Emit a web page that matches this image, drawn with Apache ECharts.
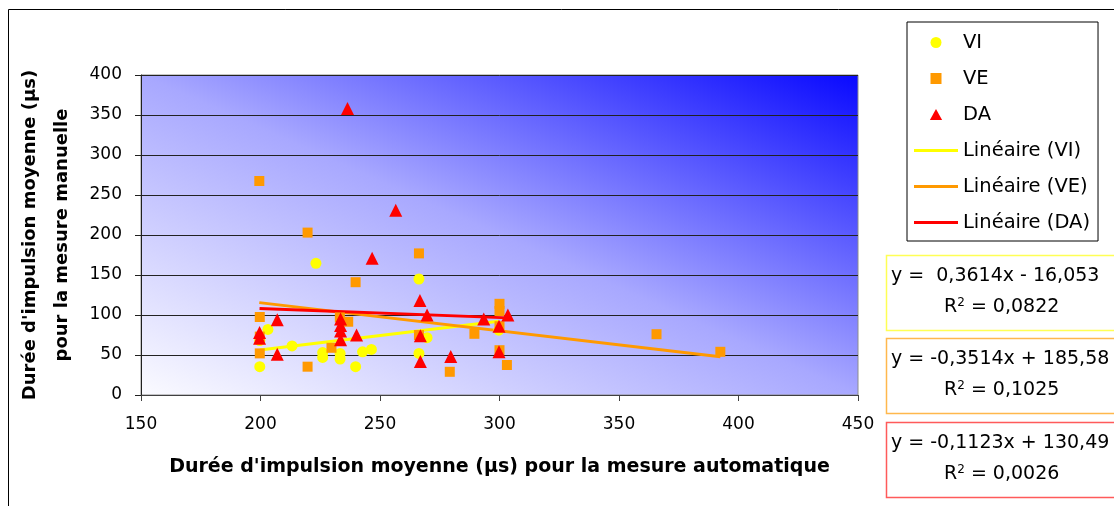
<!DOCTYPE html>
<html><head><meta charset="utf-8">
<script src="https://cdn.jsdelivr.net/npm/echarts@6/dist/echarts.min.js"></script>
<style>html,body{margin:0;padding:0;background:#fff}#c{width:1114px;height:506px}</style>
</head><body><div id="c"></div>
<script>
// ---- data ----
const viX = [223.2, 266.3, 203.1, 199.7, 199.7, 213.2, 226.0, 226.0, 233.3, 233.3, 239.8, 242.7, 246.4, 266.3, 269.7, 299.7];
const viY = [164.6, 145.0, 82.0, 35.4, 68.0, 61.3, 53.0, 47.0, 52.0, 45.0, 35.4, 54.0, 57.0, 52.0, 71.6, 81.0];
const veX = [199.5, 219.7, 266.3, 239.8, 199.7, 199.7, 199.7, 219.7, 229.7, 233.2, 236.7, 266.3, 279.2, 289.5, 300.0, 300.0, 300.0, 300.0, 303.1, 365.7, 392.4];
const veY = [267.5, 203.0, 177.0, 141.0, 97.5, 73.0, 52.0, 35.4, 59.0, 97.0, 91.6, 75.0, 29.0, 76.5, 114.0, 105.0, 86.0, 56.0, 37.5, 76.0, 54.0];
const daX = [236.4, 256.6, 246.7, 266.7, 269.7, 199.6, 199.6, 207.0, 207.0, 233.5, 233.5, 233.5, 233.5, 240.2, 266.9, 266.9, 279.6, 293.4, 303.5, 299.8, 299.8];
const daY = [358.0, 231.0, 171.0, 118.0, 100.0, 78.0, 71.0, 94.0, 51.0, 95.0, 87.0, 80.0, 69.0, 75.0, 74.0, 42.0, 48.0, 95.0, 100.0, 86.0, 54.0];
const seriesNames = ['VI', 'VE', 'DA'];
const trendNames = ['Linéaire (VI)', 'Linéaire (VE)', 'Linéaire (DA)'];
const slopes = [0.3614, -0.3514, -0.1123];
const intercepts = [-16.053, 185.58, 130.49];
const eqLabels = ['y =  0,3614x - 16,053', 'y = -0,3514x + 185,58', 'y = -0,1123x + 130,49'];
const r2Labels = ['0,0822', '0,1025', '0,0026'];
const xTicks = [150, 200, 250, 300, 350, 400, 450];
const yTicks = [0, 50, 100, 150, 200, 250, 300, 350, 400];
const xTitle = "Durée d'impulsion moyenne (µs) pour la mesure automatique";
const yTitle = "Durée d'impulsion moyenne (µs)\npour la mesure manuelle";

// ---- build ----
const colors = ['#FFFF00', '#FF9900', '#FF0000'];
const symbols = ['circle', 'rect', 'triangle'];
const symSizes = [11, 10, 13];
const legendIcons = ['circle', 'path://M0,0L10,0L10,10L0,10Z', 'path://M5,0L10,9L0,9Z'];
const lineIcon = 'path://M0,0L44,0L44,3L0,3Z';
const xs = [viX, veX, daX], ys = [viY, veY, daY];
const FONT = '"DejaVu Sans", Verdana, sans-serif';

const G = {left: 141, top: 75, width: 717, height: 320};
const t = 2 * G.width * G.height / (G.width * G.width + G.height * G.height);
const bg = new echarts.graphic.LinearGradient(0, 1, t * G.height / G.width, 1 - t * G.width / G.height, [
  {offset: 0, color: '#fbfbff'},
  {offset: 0.5, color: '#a8a8ff'},
  {offset: 1, color: '#0808ff'}
]);

const series = [];
for (let i = 0; i < 3; i++) {
  const x0 = Math.min(...xs[i]), x1 = Math.max(...xs[i]);
  series.push({
    name: trendNames[i], type: 'line', symbol: 'none', silent: true, z: 2,
    lineStyle: {color: colors[i], width: 3},
    itemStyle: {color: colors[i]},
    data: [[x0, slopes[i] * x0 + intercepts[i]], [x1, slopes[i] * x1 + intercepts[i]]]
  });
}
for (let i = 0; i < 3; i++) {
  series.push({
    name: seriesNames[i], type: 'scatter', symbol: symbols[i], symbolSize: symSizes[i], z: 3,
    itemStyle: {color: colors[i], opacity: 1},
    data: xs[i].map((x, k) => [x, ys[i][k]])
  });
}

const legendData = seriesNames.map((n, i) => ({name: n, icon: legendIcons[i], itemStyle: {color: colors[i]}}))
  .concat(trendNames.map((n, i) => ({name: n, icon: lineIcon, itemStyle: {color: colors[i]}})));

const graphics = [
  {type: 'rect', z: -10, shape: {x: 8.5, y: 9.5, width: 1200, height: 600}, style: {fill: 'none', stroke: '#000', lineWidth: 1}}
];
const boxColors = ['#FFFF55', '#FFB84D', '#FF5A5A'];
const boxTops = [255, 338, 422];
for (let i = 0; i < 3; i++) {
  graphics.push({type: 'rect', shape: {x: 886.5, y: boxTops[i] + 0.5, width: 300, height: 75}, style: {fill: '#fff', stroke: boxColors[i], lineWidth: 1.5}});
  graphics.push({type: 'text', left: 891, top: boxTops[i] + 12, style: {text: eqLabels[i], font: '19px ' + FONT, fill: '#000'}});
  graphics.push({type: 'text', left: 944, top: boxTops[i] + 42, style: {
    text: 'R{sup|2} = ' + r2Labels[i], font: '19px ' + FONT, fill: '#000',
    rich: {sup: {fontSize: 12, fontFamily: 'DejaVu Sans', padding: [0, 0, 9, 0]}}
  }});
}

const chart = echarts.init(document.getElementById('c'), null, {renderer: 'canvas'});
chart.setOption({
  animation: false,
  backgroundColor: '#fff',
  textStyle: {fontFamily: FONT},
  grid: Object.assign({show: true, backgroundColor: bg, borderColor: '#8c8c8c', borderWidth: 1, outerBoundsMode: 'none', containLabel: false}, G),
  legend: {
    orient: 'vertical', left: 907, top: 22, padding: [10, 8, 8, 7],
    itemWidth: 44, itemHeight: 11, itemGap: 15, symbolKeepAspect: true,
    borderColor: '#000', borderWidth: 1, backgroundColor: '#fff',
    textStyle: {fontSize: 19.5, color: '#000', lineHeight: 21, fontFamily: FONT},
    data: legendData
  },
  xAxis: {
    type: 'value', min: xTicks[0], max: xTicks[xTicks.length - 1], interval: 50,
    axisLine: {show: true, lineStyle: {color: '#404040', width: 1}},
    axisTick: {show: true, length: 6, lineStyle: {color: '#404040'}},
    axisLabel: {fontSize: 17, color: '#000', margin: 21, fontFamily: FONT},
    splitLine: {show: false},
    name: xTitle, nameLocation: 'middle', nameGap: 63,
    nameTextStyle: {fontSize: 19, fontWeight: 'bold', color: '#000', fontFamily: FONT}
  },
  yAxis: {
    type: 'value', min: yTicks[0], max: yTicks[yTicks.length - 1], interval: 50,
    axisLine: {show: true, lineStyle: {color: '#202020', width: 1}},
    axisTick: {show: true, length: 6, lineStyle: {color: '#202020'}},
    axisLabel: {fontSize: 17, color: '#000', margin: 19, fontFamily: FONT},
    splitLine: {show: true, lineStyle: {color: '#222', width: 1}},
    name: yTitle, nameLocation: 'middle', nameGap: 57, nameRotate: 90,
    nameTextStyle: {fontSize: 18, fontWeight: 'bold', color: '#000', lineHeight: 32, align: 'center', fontFamily: FONT}
  },
  graphic: graphics,
  series: series
});
</script></body></html>
